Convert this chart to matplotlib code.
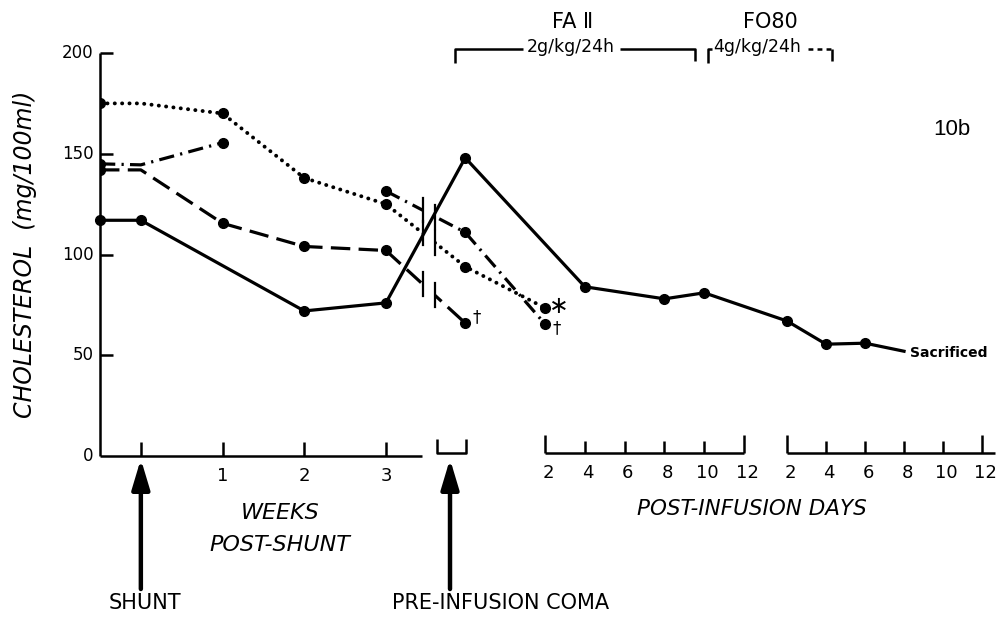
import numpy as np
import matplotlib.pyplot as plt

plt.rcParams['font.family'] = 'DejaVu Sans'
plt.rcParams['lines.scale_dashes'] = False

# weeks post-shunt (-0.5 = pre-shunt baseline, 0 = day of shunt)
weeks = [-0.5, 0, 1, 2, 3]
solid_weeks = [-0.5, 0, 2, 3]

# cholesterol (mg/100ml) during the weeks after the shunt
solid_chol = [117, 117, 72, 76]
dotted_chol = [175, 175, 170, 138, 125]
dashdot_chol = [145, 144.5, 155.5, np.nan, 131.5]
dashed_chol = [142, 142, 115.5, 104, 102]

# value at pre-infusion coma
solid_pre = 148
dotted_pre = 94
dashdot_pre = 111
dashed_pre = 66

# post-infusion days, FA II period
solid_fa_days = [4, 8, 10]
solid_fa = [84, 78, 81]
short_fa_days = [2]
dotted_fa = [73.5]
dashdot_fa = [65.5]

# post-infusion days, FO80 period
solid_fo_days = [2, 4, 6, 8]
solid_fo = [67, 55.5, 56, 52]

y_ticks = [0, 50, 100, 150, 200]
week_ticks = [1, 2, 3]
day_ticks = [2, 4, 6, 8, 10, 12]

# horizontal layout of the broken time axis (in week units)
PRE_X = 3.97
BREAK_L, BREAK_R = 3.453, 3.60


def fa_x(d):
    return 4.947 + (np.asarray(d, dtype=float) - 2) * 0.2436


def fo_x(d):
    return 7.909 + (np.asarray(d, dtype=float) - 2) * 0.2387


def series_x(wk, fa=(), fo=()):
    return np.concatenate([np.asarray(wk, dtype=float), [PRE_X], fa_x(fa), fo_x(fo)])


fig = plt.figure(figsize=(10.01, 6.18), dpi=100)
ax = fig.add_axes([100 / 1001, 0.2621, 901 / 1001, 0.6521])
ax.set_xlim(-0.5, 10.528)
ax.set_ylim(0, 200)
ax.axis('off')

K = 'black'
LW = 2.3
MS = 7

# solid animal (survived to sacrifice)
sx = series_x(solid_weeks, solid_fa_days, solid_fo_days)
sy = solid_chol + [solid_pre] + solid_fa + solid_fo
ax.plot(sx, sy, color=K, lw=LW, ls='-', marker='o', ms=MS,
        markevery=list(range(len(sx) - 1)), zorder=4, clip_on=False)

# dotted
dx = series_x(weeks, short_fa_days)
dy = dotted_chol + [dotted_pre] + dotted_fa
ax.plot(dx, dy, color=K, lw=2.8, ls=(0, (0.1, 5.2)), dash_capstyle='round',
        marker='o', ms=MS, markevery=[0, 2, 3, 4, 5, 6], zorder=2)

# dash-dot
ddx = series_x(weeks, short_fa_days)
ddy = dashdot_chol + [dashdot_pre] + dashdot_fa
ax.plot(ddx, ddy, color=K, lw=LW, ls=(0, (11, 4.5, 1.6, 4.5)),
        marker='o', ms=MS, markevery=[0, 2, 4, 5, 6], zorder=2)

# dashed
hx = series_x(weeks)
hy = dashed_chol + [dashed_pre]
ax.plot(hx, hy, color=K, lw=LW, ls=(0, (14, 6)),
        marker='o', ms=MS, markevery=[0, 2, 3, 4, 5], zorder=2)

# gap in the time axis between week 3 and the coma
ax.axvspan(BREAK_L, BREAK_R, color='white', zorder=3, lw=0)
for last_week, pre in [(dotted_chol[-1], dotted_pre),
                       (dashdot_chol[-1], dashdot_pre),
                       (dashed_chol[-1], dashed_pre)]:
    for xb in (BREAK_L, BREAK_R):
        v = np.interp(xb, [3, PRE_X], [last_week, pre])
        ax.plot([xb, xb], [v - 6, v + 6], color=K, lw=1.6, zorder=4)

# deaths and other marks
ax.annotate('†', (PRE_X, dashed_pre), xytext=(8.6, 4), textcoords='offset points',
            ha='center', va='center', fontsize=12)
ax.annotate('†', (fa_x(2), dashdot_fa[0]), xytext=(8.6, -3), textcoords='offset points',
            ha='center', va='center', fontsize=12)
ax.annotate('∗', (fa_x(2), dotted_fa[0]), xytext=(10, 1.5), textcoords='offset points',
            ha='center', va='center', fontsize=17)
ax.text(9.41, 51, 'Sacrificed', ha='left', va='center', fontsize=10, fontweight='bold')

# y axis
axis_kw = dict(color=K, lw=1.8, clip_on=False, solid_capstyle='butt')
ax.plot([-0.5, -0.5], [0, 200], **axis_kw)
for t in y_ticks:
    if t > 0:
        ax.plot([-0.5, -0.34], [t, t], **axis_kw)
    ax.text(-0.58, t, str(t), ha='right', va='center', fontsize=12)
ax.text(-1.418, 100, 'CHOLESTEROL  (mg/100ml)', rotation=90, ha='center', va='center',
        fontsize=17, style='italic')

# weeks axis
ax.plot([-0.5, 3.44], [0, 0], **axis_kw)
for t in [0] + week_ticks:
    ax.plot([t, t], [0, 7], **axis_kw)
for t in week_ticks:
    ax.text(t, -10, str(t), ha='center', va='center', fontsize=13)
ax.text(1.70, -28.3, 'WEEKS', ha='center', va='center', fontsize=16, style='italic')
ax.text(1.70, -44, 'POST-SHUNT', ha='center', va='center', fontsize=16, style='italic')

# pre-infusion bracket
ax.plot([3.625, 3.625, 3.98, 3.98], [8.5, 1.5, 1.5, 8.5], **axis_kw)

# post-infusion day axes
for to_x, right_end in [(fa_x, fa_x(12)), (fo_x, 10.455)]:
    ax.plot([to_x(2), right_end], [1.5, 1.5], **axis_kw)
    for d in day_ticks:
        h = 9 if d in (2, 12) else 6
        ax.plot([to_x(d), to_x(d)], [1.5, 1.5 + h], **axis_kw)
        ax.text(to_x(d) + 0.04, -8.5, str(d), ha='center', va='center', fontsize=13)
ax.text(7.48, -26.3, 'POST-INFUSION DAYS', ha='center', va='center', fontsize=15.5,
        style='italic')

# event arrows
for x_arrow, label, x_label in [(0, 'SHUNT', 0.05), (3.784, 'PRE-INFUSION COMA', 4.40)]:
    ax.annotate('', xy=(x_arrow, -1.5), xytext=(x_arrow, -66), annotation_clip=False,
                arrowprops=dict(arrowstyle='-|>,head_length=1.5,head_width=0.45',
                                lw=3.2, color=K, shrinkA=0, shrinkB=0, mutation_scale=12))
    ax.text(x_label, -73, label, ha='center', va='center', fontsize=15)

# infusion periods along the top
ax.plot([3.845, 3.845, 4.677], [195, 202, 202], **axis_kw)
ax.plot([5.865, 6.783, 6.783], [202, 202, 196], **axis_kw)
ax.text(5.265, 203, '2g/kg/24h', ha='center', va='center', fontsize=12.5)
ax.text(5.28, 215.5, 'FA Ⅱ', ha='center', va='center', fontsize=15)

ax.plot([6.942, 6.942, 6.99], [195, 202, 202], **axis_kw)
ax.plot([8.166, 8.459], [202, 202], color=K, lw=1.8, ls=(0, (3.5, 3)), clip_on=False)
ax.plot([8.459, 8.459], [202, 196], **axis_kw)
ax.text(7.54, 203, '4g/kg/24h', ha='center', va='center', fontsize=12.5)
ax.text(7.70, 215.5, 'FO80', ha='center', va='center', fontsize=15)

ax.text(9.93, 161.8, '10b', ha='center', va='center', fontsize=16, family='Liberation Sans')

fig.savefig('out.png', dpi=100)
